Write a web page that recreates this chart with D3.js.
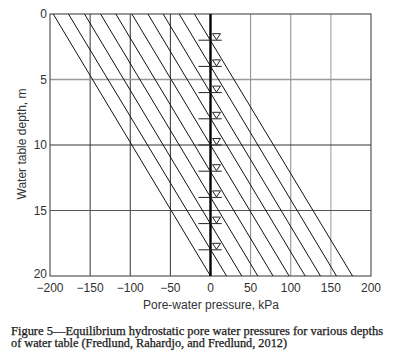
<!DOCTYPE html>
<html><head><meta charset="utf-8">
<script src="https://cdn.jsdelivr.net/npm/d3@7"></script>
<style>body{margin:0;background:#fff;}svg{display:block;}</style>
</head><body>
<svg id="c" width="412" height="358"></svg>
<script>
// Data
const waterTableDepths = [2, 4, 6, 8, 10, 12, 14, 16, 18, 20];          // m
const pressureAtSurface = [-20, -39, -59, -78, -98, -118, -137, -157, -177, -196]; // kPa at depth 0
const pressureAtBottom = [177, 157, 137, 118, 98, 78, 59, 39, 20, 0];  // kPa at depth 20
const markerDepths = [2, 4, 6, 8, 10, 12, 14, 16, 18];
const xTicks = [-200, -150, -100, -50, 0, 50, 100, 150, 200];
const yTicks = [0, 5, 10, 15, 20];
const captionLines = [
  "Figure 5\u2014Equilibrium hydrostatic pore water pressures for various depths",
  "of water table (Fredlund, Rahardjo, and Fredlund, 2012)"
];

const svg = d3.select("#c");
const L = 50, R = 371, T = 14, B = 276;
const x = d3.scaleLinear().domain([-200, 200]).range([L, R]);
const y = d3.scaleLinear().domain([0, 20]).range([T, B]);

// grid
const gridV = [[-150,"#333",1],[-100,"#333",1],[-50,"#333",1],[50,"#888",1],[100,"#888",1],[150,"#999",1]];
svg.append("g").selectAll("line").data(gridV).join("line")
  .attr("x1", d => x(d[0])).attr("x2", d => x(d[0]))
  .attr("y1", T).attr("y2", B)
  .attr("stroke", d => d[1]).attr("stroke-width", d => d[2]);
const gridH = [[5,"#999",1.4],[10,"#333",1],[15,"#555",1]];
svg.append("g").selectAll("line").data(gridH).join("line")
  .attr("x1", L).attr("x2", R)
  .attr("y1", d => y(d[0])).attr("y2", d => y(d[0]))
  .attr("stroke", d => d[1]).attr("stroke-width", d => d[2]);

// frame
svg.append("rect").attr("x", L).attr("y", T).attr("width", R - L).attr("height", B - T)
  .attr("fill", "none").attr("stroke", "#555").attr("stroke-width", 1.2);

// clip
svg.append("clipPath").attr("id", "pc").append("rect")
  .attr("x", L).attr("y", T).attr("width", R - L).attr("height", B - T);

// hydrostatic lines
const lines = waterTableDepths.map((d, i) => [[pressureAtSurface[i], 0], [pressureAtBottom[i], 20]]);
const lineGen = d3.line().x(d => x(d[0])).y(d => y(d[1]));
svg.append("g").attr("clip-path", "url(#pc)").selectAll("path").data(lines).join("path")
  .attr("d", lineGen).attr("fill", "none").attr("stroke", "#111").attr("stroke-width", 1);

// zero axis
svg.append("line").attr("x1", x(0)).attr("x2", x(0)).attr("y1", T).attr("y2", B)
  .attr("stroke", "#000").attr("stroke-width", 2.4);

// water table markers
const mk = svg.append("g");
markerDepths.forEach(d => {
  const yy = y(d);
  mk.append("line").attr("x1", x(-15)).attr("x2", x(14)).attr("y1", yy).attr("y2", yy)
    .attr("stroke", "#222").attr("stroke-width", 1);
  const cx = x(0) + 6;
  mk.append("path").attr("d", `M${cx-4},${yy-6.5}L${cx+4},${yy-6.5}L${cx},${yy-0.5}Z`)
    .attr("fill", "#fff").attr("stroke", "#222").attr("stroke-width", 1);
});

const font = "'Liberation Sans', Arial, Helvetica, sans-serif";
// y tick labels
svg.append("g").selectAll("text").data(yTicks).join("text")
  .attr("x", L - 3).attr("y", d => y(d) - (d === 20 ? 2 : 0)).attr("dy", "0.35em").attr("text-anchor", "end")
  .attr("font-family", font).attr("font-size", 12).attr("fill", "#333").text(d => d);
// x tick labels
svg.append("g").selectAll("text").data(xTicks).join("text")
  .attr("x", d => x(d)).attr("y", 292).attr("text-anchor", "middle")
  .attr("font-family", font).attr("font-size", 12).attr("fill", "#333")
  .text(d => d < 0 ? "\u2212" + Math.abs(d) : d);

// axis titles
svg.append("text").attr("transform", `translate(26,144) rotate(-90)`)
  .attr("text-anchor", "middle").attr("font-family", font).attr("font-size", 12).attr("fill", "#333")
  .text("Water table depth, m");
svg.append("text").attr("x", 211).attr("y", 309).attr("text-anchor", "middle")
  .attr("font-family", font).attr("font-size", 12).attr("fill", "#333")
  .text("Pore-water pressure, kPa");

// caption
const capW = [372, 276];
svg.append("g").selectAll("text").data(captionLines).join("text")
  .attr("x", 11).attr("y", (d, i) => 335 + i * 11.5)
  .attr("font-family", "'Liberation Serif', 'DejaVu Serif', serif").attr("font-size", 11.5)
  .attr("fill", "#1a1a1a").attr("stroke", "#1a1a1a").attr("stroke-width", 0.25)
  .attr("textLength", (d, i) => capW[i]).attr("lengthAdjust", "spacingAndGlyphs")
  .text(d => d);
</script>
</body></html>
